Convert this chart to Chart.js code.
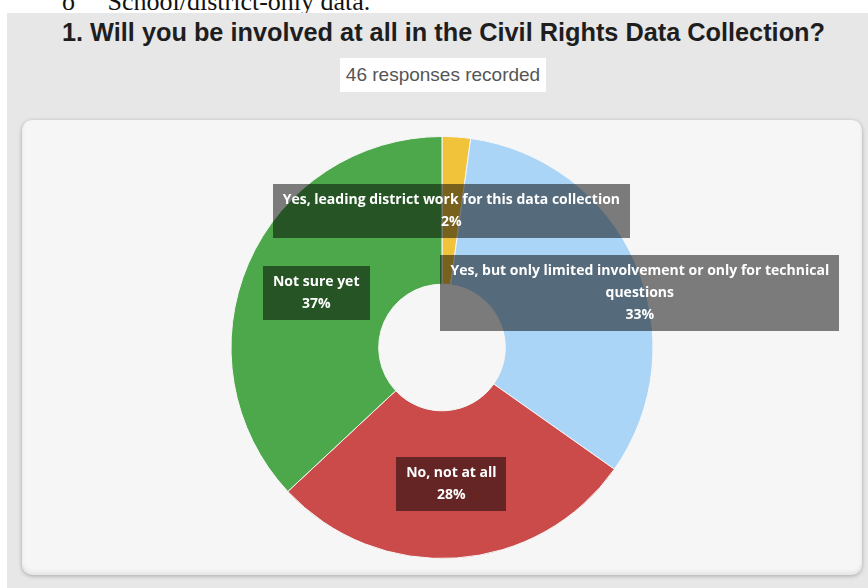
<!DOCTYPE html>
<html>
<head>
<meta charset="utf-8">
<script src="https://cdn.jsdelivr.net/npm/chart.js@4"></script>
<style>
  html, body { margin: 0; padding: 0; background: #fff; width: 868px; height: 588px; overflow: hidden; }
  .cutoff { position: absolute; left: 62px; top: -13px; font: 26px "Liberation Serif", serif; color: #111; white-space: pre; }
  .panel { position: absolute; left: 7px; top: 13px; width: 861px; height: 575px; background: #e7e7e7; }
  .title { position: absolute; left: 13px; width: 861px; top: 17px; text-align: center; font: bold 25.3px "Liberation Sans", Arial, sans-serif; line-height: 30px; color: #1e1e1e; white-space: nowrap; }
  .count { position: absolute; left: 340px; top: 58px; width: 206px; height: 34px; background: #fff; text-align: center; font: 19px "Liberation Sans", Arial, sans-serif; line-height: 34px; color: #555; }
  .card { position: absolute; left: 22px; top: 120px; width: 840px; height: 455px; background: #f6f6f6; border-radius: 10px;
          box-shadow: 0 1px 4px rgba(0,0,0,0.28), inset 0 -3px 4px rgba(0,0,0,0.07); }
</style>
</head>
<body>
<div class="cutoff">o     School/district-only data.</div>
<div class="panel"></div>
<div class="title">1. Will you be involved at all in the Civil Rights Data Collection?</div>
<div class="count">46 responses recorded</div>
<div class="card"><canvas id="pie" width="840" height="455"></canvas></div>
<script>
// Survey answers, clockwise from the top
const categories = [
    'Yes, leading district work for this data collection',
    'Yes, but only limited involvement or only for technical questions',
    'No, not at all',
    'Not sure yet'
];
const responses = [1, 15, 13, 17];
const sliceColors = ['#f1c33b', '#aad5f7', '#cb4a4a', '#4ca84b'];

const total = responses.reduce((a, b) => a + b, 0);

// wrap a label into lines no wider than maxWidth
function wrapText(ctx, text, maxWidth) {
    const words = text.split(' ');
    const lines = [];
    let line = '';
    words.forEach(word => {
        const test = line ? line + ' ' + word : word;
        if (ctx.measureText(test).width > maxWidth && line) {
            lines.push(line);
            line = word;
        } else {
            line = test;
        }
    });
    lines.push(line);
    return lines;
}

// dark boxes with the answer and percent on each slice
const sliceLabels = {
    id: 'sliceLabels',
    afterDatasetsDraw(chart, args, opts) {
        const ctx = chart.ctx;
        const meta = chart.getDatasetMeta(0);
        ctx.save();
        ctx.font = opts.font;
        ctx.textAlign = 'center';
        ctx.textBaseline = 'middle';
        meta.data.forEach((arc, i) => {
            const pos = arc.tooltipPosition();
            const lines = wrapText(ctx, categories[i], opts.maxWidth);
            lines.push(Math.round(responses[i] / total * 100) + '%');
            const textW = Math.max(...lines.map(l => ctx.measureText(l).width));
            const w = textW + opts.padX * 2;
            const h = lines.length * opts.lineHeight + opts.padY * 2;
            const cx = pos.x + (opts.shiftX[i] || 0);
            const cy = pos.y;
            ctx.fillStyle = 'rgba(0,0,0,0.5)';
            ctx.fillRect(Math.round(cx - w / 2), Math.round(cy - h / 2), Math.round(w), Math.round(h));
            ctx.fillStyle = '#ffffff';
            lines.forEach((l, j) => {
                ctx.fillText(l, cx, cy - h / 2 + opts.padY + opts.lineHeight * (j + 0.5));
            });
        });
        ctx.restore();
    }
};

new Chart(document.getElementById('pie').getContext('2d'), {
    type: 'doughnut',
    data: {
        labels: categories,
        datasets: [{
            data: responses,
            backgroundColor: sliceColors,
            borderColor: '#f6f6f6',
            borderWidth: 1
        }]
    },
    options: {
        responsive: false,
        animation: false,
        cutout: '30%',
        layout: { padding: 16 },
        plugins: {
            legend: { display: false },
            tooltip: { enabled: false },
            sliceLabels: {
                font: 'bold 14px "Open Sans", "Liberation Sans", sans-serif',
                maxWidth: 410,
                padX: 10,
                padY: 5,
                lineHeight: 22,
                shiftX: [0, 72, 0, 0]
            }
        }
    },
    plugins: [sliceLabels]
});
</script>
</body>
</html>
